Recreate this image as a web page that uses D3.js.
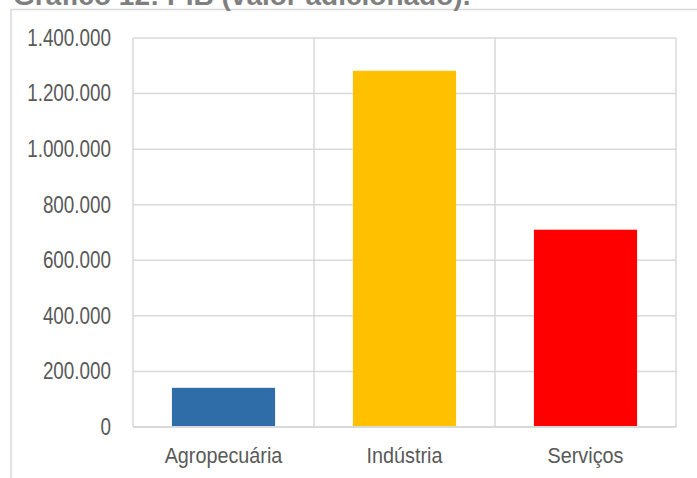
<!DOCTYPE html>
<html>
<head>
<meta charset="utf-8">
<script src="https://cdn.jsdelivr.net/npm/d3@7"></script>
<style>
  html, body { margin: 0; padding: 0; background: #fff; overflow: hidden; }
  svg { display: block; }
</style>
</head>
<body>
<svg id="chart" width="697" height="478"></svg>
<script>
const titleText = "Gráfico 12: PIB (valor adicionado).";
const categories = ["Agropecuária", "Indústria", "Serviços"];
const values = [141000, 1282000, 710000];
const barColors = ["#2E6DA8", "#FFC000", "#FF0000"];
const yTicks = [0, 200000, 400000, 600000, 800000, 1000000, 1200000, 1400000];

const svg = d3.select("#chart");
const W = 697, H = 478;
const plot = { left: 133, right: 676, top: 38, bottom: 427 };
const fontFam = "'Liberation Sans', Arial, sans-serif";
const textColor = "#595959";
const gridColor = "#d9d9d9";

// outer frame
svg.append("path")
  .attr("d", `M11,${H + 5} L11,9.5 L${W + 5},9.5`)
  .attr("fill", "none").attr("stroke", gridColor).attr("stroke-width", 1.5);

// title (partially cut off at top, as in the reference)
svg.append("text")
  .attr("x", 13).attr("y", 5)
  .attr("font-family", fontFam)
  .attr("font-weight", "bold").attr("font-size", 28)
  .attr("fill", "#7f7f7f")
  .text(titleText);

const loc = d3.formatLocale({ decimal: ",", thousands: ".", grouping: [3], currency: ["", ""] });
const fmt = loc.format(",d");

const x = d3.scaleBand().domain(categories).range([plot.left, plot.right])
  .paddingInner(0.43).paddingOuter(0.215);
const y = d3.scaleLinear().domain([0, 1400000]).range([plot.bottom, plot.top]);

// horizontal gridlines
svg.append("g").selectAll("line").data(yTicks).join("line")
  .attr("x1", plot.left).attr("x2", plot.right)
  .attr("y1", d => y(d)).attr("y2", d => y(d))
  .attr("stroke", gridColor).attr("stroke-width", 1.5);

// vertical gridlines at category boundaries
const step = x.step();
const vlines = d3.range(categories.length + 1).map(i => plot.left + i * step);
svg.append("g").selectAll("line").data(vlines).join("line")
  .attr("x1", d => d).attr("x2", d => d)
  .attr("y1", plot.top).attr("y2", plot.bottom)
  .attr("stroke", gridColor).attr("stroke-width", 1.5);

// bars
svg.append("g").selectAll("rect").data(values).join("rect")
  .attr("x", (d, i) => x(categories[i]))
  .attr("width", x.bandwidth())
  .attr("y", d => y(d))
  .attr("height", d => y(0) - y(d))
  .attr("fill", (d, i) => barColors[i]);

// bottom axis line
svg.append("line")
  .attr("x1", plot.left).attr("x2", plot.right)
  .attr("y1", plot.bottom).attr("y2", plot.bottom)
  .attr("stroke", gridColor).attr("stroke-width", 2);

// y axis (condensed text)
const ySx = 0.82;
const yAxis = d3.axisLeft(y).tickValues(yTicks).tickFormat(fmt).tickSize(0).tickPadding(22);
const gy = svg.append("g").attr("transform", `translate(${plot.left},0)`).call(yAxis);
gy.select(".domain").remove();
gy.selectAll("text")
  .attr("font-family", fontFam).attr("font-size", 23).attr("fill", textColor)
  .attr("x", -22 / ySx)
  .attr("transform", `scale(${ySx},1)`);

// x axis (condensed text)
const xSx = 0.88;
const xAxis = d3.axisBottom(x).tickSize(0).tickPadding(20);
const gx = svg.append("g").attr("transform", `translate(0,${plot.bottom})`).call(xAxis);
gx.select(".domain").remove();
gx.selectAll("text")
  .attr("font-family", fontFam).attr("font-size", 22.5).attr("fill", textColor)
  .attr("transform", `scale(${xSx},1)`);
</script>
</body>
</html>
